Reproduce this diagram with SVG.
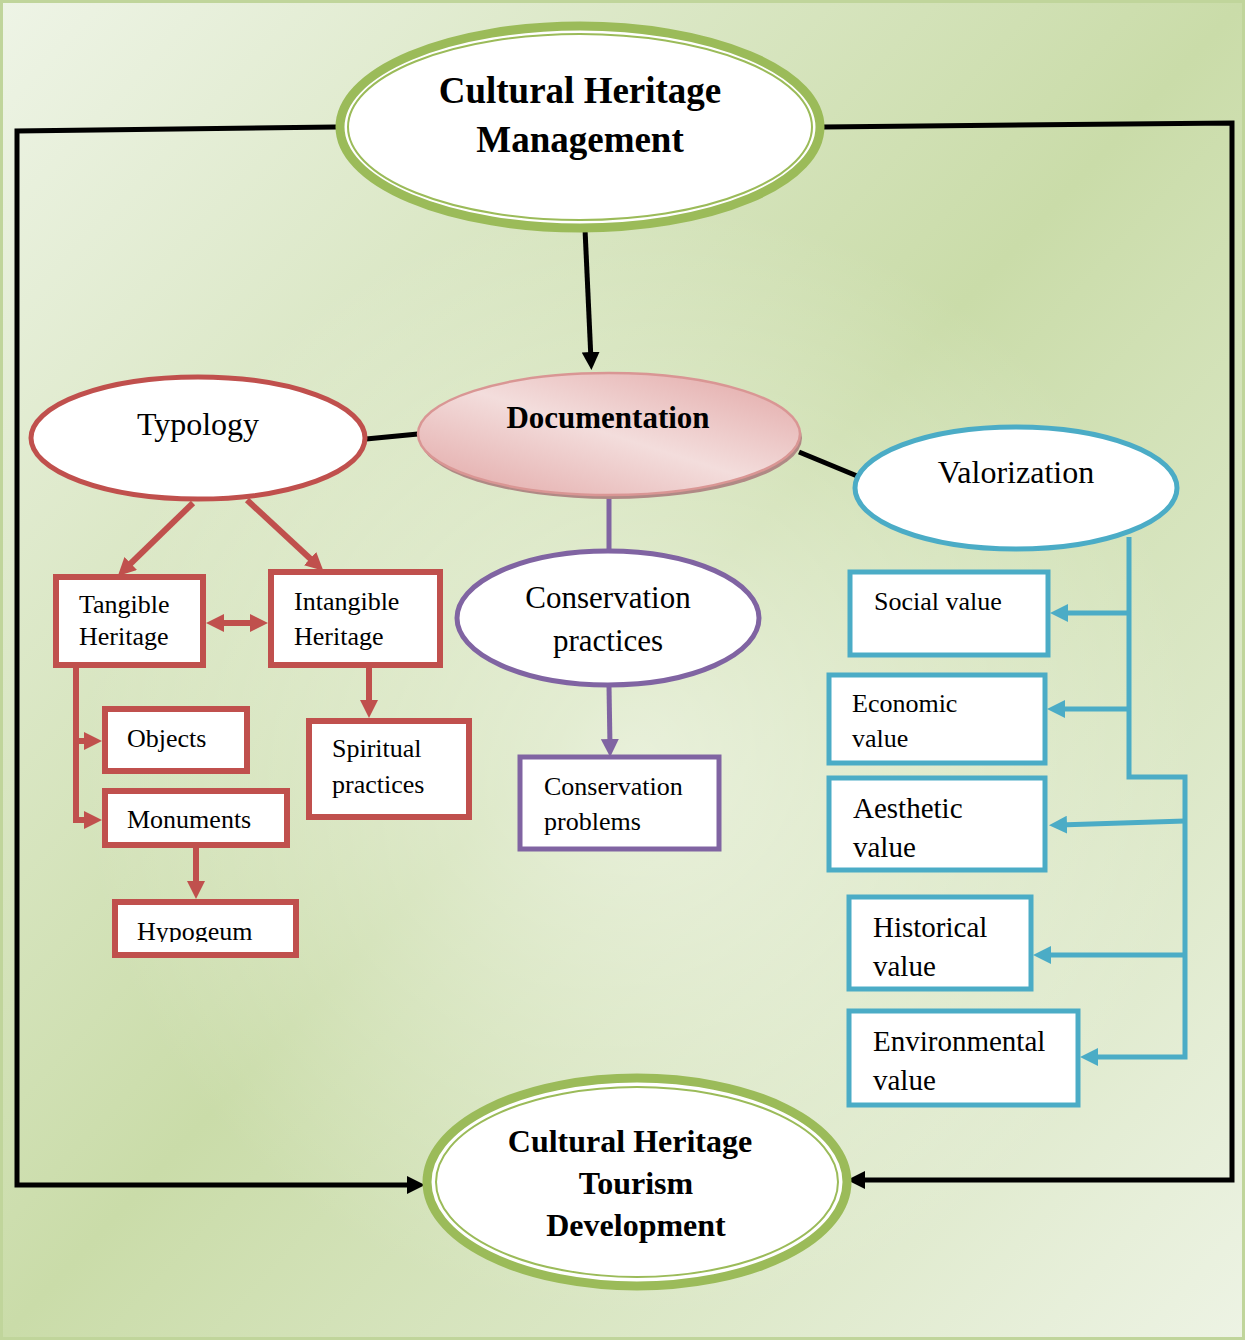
<svg xmlns="http://www.w3.org/2000/svg" width="1245" height="1340" viewBox="0 0 1245 1340">
<defs>
<linearGradient id="bg" x1="0" y1="0" x2="1" y2="1">
<stop offset="0" stop-color="#eef4e6"/>
<stop offset="0.5" stop-color="#cadca9"/>
<stop offset="1" stop-color="#edf3e4"/>
</linearGradient>
<radialGradient id="bgHi" cx="640" cy="760" r="560" gradientUnits="userSpaceOnUse">
<stop offset="0" stop-color="#ffffff" stop-opacity="0.55"/>
<stop offset="1" stop-color="#ffffff" stop-opacity="0"/>
</radialGradient>
<linearGradient id="docFill" x1="0" y1="1" x2="1" y2="0">
<stop offset="0" stop-color="#e2a6a5"/>
<stop offset="0.5" stop-color="#f3dddc"/>
<stop offset="1" stop-color="#e2a6a5"/>
</linearGradient>
<marker id="aBlack" markerUnits="userSpaceOnUse" viewBox="0 0 18 18" markerWidth="18" markerHeight="18" refX="8" refY="9" orient="auto"><path d="M0,0 L18,9 L0,18 z" fill="#000"/></marker>
<marker id="aRed" markerUnits="userSpaceOnUse" viewBox="0 0 18 18" markerWidth="18" markerHeight="18" refX="8" refY="9" orient="auto-start-reverse"><path d="M0,0 L18,9 L0,18 z" fill="#c0504d"/></marker>
<marker id="aBlue" markerUnits="userSpaceOnUse" viewBox="0 0 18 18" markerWidth="18" markerHeight="18" refX="8" refY="9" orient="auto"><path d="M0,0 L18,9 L0,18 z" fill="#4bacc6"/></marker>
<marker id="aPurple" markerUnits="userSpaceOnUse" viewBox="0 0 18 18" markerWidth="18" markerHeight="18" refX="8" refY="9" orient="auto"><path d="M0,0 L18,9 L0,18 z" fill="#8064a2"/></marker>
<clipPath id="hypoClip"><rect x="118" y="905" width="175" height="37"/></clipPath>
</defs>
<style>
text{font-family:"Liberation Serif","Times New Roman",serif;fill:#000}
.b{font-weight:bold}
.m{text-anchor:middle}
.red{fill:#fff;stroke:#c0504d;stroke-width:6}
.blue{fill:#fff;stroke:#4bacc6;stroke-width:5}
.purple{fill:#fff;stroke:#8064a2;stroke-width:5}
.gOut{fill:#fff;stroke:#9bbb59;stroke-width:9}
.gIn{fill:none;stroke:#9bbb59;stroke-width:2}
.cBlack{fill:none;stroke:#000;stroke-width:5}
.cRed{fill:none;stroke:#c0504d;stroke-width:6}
.cBlue{fill:none;stroke:#4bacc6;stroke-width:5}
.cPurple{fill:none;stroke:#8064a2;stroke-width:5}
.t26{font-size:26px}
.t29{font-size:29px}
.t32{font-size:32px}
</style>
<rect x="0" y="0" width="1245" height="1340" fill="url(#bg)"/>
<rect x="0" y="0" width="1245" height="1340" fill="url(#bgHi)"/>
<rect x="1.5" y="1.5" width="1242" height="1337" fill="none" stroke="#c0d59b" stroke-width="3"/>

<g id="connectors">
<path class="cBlack" d="M336,127 L17,131 L17,1185 L415,1185" marker-end="url(#aBlack)"/>
<path class="cBlack" d="M823,127 L1232,123 L1232,1180 L857,1180" marker-end="url(#aBlack)"/>
<path class="cBlack" d="M585,229 L591,360" marker-end="url(#aBlack)"/>
<path class="cBlack" d="M366,439 L418,434"/>
<path class="cBlack" d="M799,452 L862,478"/>
<path class="cRed" d="M193,503 L125,569" marker-end="url(#aRed)"/>
<path class="cRed" d="M247,500 L316,564" marker-end="url(#aRed)"/>
<path class="cRed" d="M216,623 L258,623" marker-start="url(#aRed)" marker-end="url(#aRed)"/>
<path class="cRed" d="M76,668 L76,820 L92,820" marker-end="url(#aRed)"/>
<path class="cRed" d="M76,741 L92,741" marker-end="url(#aRed)"/>
<path class="cRed" d="M369,668 L369,708" marker-end="url(#aRed)"/>
<path class="cRed" d="M196,848 L196,889" marker-end="url(#aRed)"/>
<path class="cPurple" d="M609,498 L609,551"/>
<path class="cPurple" d="M609,686 L610,747" marker-end="url(#aPurple)"/>
<path class="cBlue" d="M1129,537 L1129,777 L1185,777 L1185,1057 L1090,1057" marker-end="url(#aBlue)"/>
<path class="cBlue" d="M1129,613 L1060,613" marker-end="url(#aBlue)"/>
<path class="cBlue" d="M1129,709 L1057,709" marker-end="url(#aBlue)"/>
<path class="cBlue" d="M1185,821 L1059,825" marker-end="url(#aBlue)"/>
<path class="cBlue" d="M1185,955 L1043,955" marker-end="url(#aBlue)"/>
</g>

<g id="management">
<ellipse class="gOut" cx="580" cy="127" rx="240" ry="101"/>
<ellipse class="gIn" cx="580" cy="127" rx="232" ry="93"/>
<text class="b m" style="font-size:37px" x="580" y="103">Cultural Heritage</text>
<text class="b m" style="font-size:37px" x="580" y="152">Management</text>
</g>

<g id="documentation">
<ellipse cx="611" cy="438" rx="191" ry="61" fill="#b08985"/>
<ellipse cx="609" cy="434" rx="191" ry="61" fill="url(#docFill)" stroke="#d99694" stroke-width="2.5"/>
<text class="b m" style="font-size:31px" x="608" y="428">Documentation</text>
</g>

<g id="typology">
<ellipse class="red" style="stroke-width:5" cx="198" cy="438" rx="167" ry="61"/>
<text class="m t32" x="198" y="435">Typology</text>
</g>

<g id="valorization">
<ellipse class="blue" cx="1016" cy="488" rx="161" ry="61"/>
<text class="m t32" x="1016" y="483">Valorization</text>
</g>

<g id="conservation-practices">
<ellipse class="purple" cx="608" cy="618" rx="151" ry="67"/>
<text class="m" style="font-size:31px" x="608" y="608">Conservation</text>
<text class="m" style="font-size:31px" x="608" y="651">practices</text>
</g>

<g id="conservation-problems">
<rect class="purple" x="520" y="757" width="199" height="92"/>
<text class="t26" x="544" y="795">Conservation</text>
<text class="t26" x="544" y="830">problems</text>
</g>

<g id="tangible">
<rect class="red" x="56" y="577" width="147" height="88"/>
<text class="t26" x="79" y="613">Tangible</text>
<text class="t26" x="79" y="645">Heritage</text>
</g>

<g id="intangible">
<rect class="red" x="271" y="572" width="169" height="93"/>
<text class="t26" x="294" y="610">Intangible</text>
<text class="t26" x="294" y="645">Heritage</text>
</g>

<g id="objects">
<rect class="red" x="105" y="709" width="142" height="62"/>
<text class="t26" x="127" y="747">Objects</text>
</g>

<g id="monuments">
<rect class="red" x="105" y="791" width="182" height="54"/>
<text class="t26" x="127" y="828">Monuments</text>
</g>

<g id="hypogeum">
<rect class="red" x="115" y="902" width="181" height="53"/>
<text class="t26" x="137" y="940" clip-path="url(#hypoClip)">Hypogeum</text>
</g>

<g id="spiritual">
<rect class="red" x="309" y="721" width="160" height="96"/>
<text class="t26" x="332" y="757">Spiritual</text>
<text class="t26" x="332" y="793">practices</text>
</g>

<g id="social">
<rect class="blue" x="850" y="572" width="198" height="83"/>
<text class="t26" x="874" y="610">Social value</text>
</g>

<g id="economic">
<rect class="blue" x="829" y="675" width="216" height="88"/>
<text class="t26" x="852" y="712">Economic</text>
<text class="t26" x="852" y="747">value</text>
</g>

<g id="aesthetic">
<rect class="blue" x="829" y="778" width="216" height="92"/>
<text class="t29" x="853" y="818">Aesthetic</text>
<text class="t29" x="853" y="857">value</text>
</g>

<g id="historical">
<rect class="blue" x="849" y="897" width="182" height="92"/>
<text class="t29" x="873" y="937">Historical</text>
<text class="t29" x="873" y="976">value</text>
</g>

<g id="environmental">
<rect class="blue" x="849" y="1011" width="229" height="94"/>
<text class="t29" x="873" y="1051">Environmental</text>
<text class="t29" x="873" y="1090">value</text>
</g>

<g id="tourism">
<ellipse class="gOut" cx="637" cy="1182" rx="210" ry="104"/>
<ellipse class="gIn" cx="637" cy="1182" rx="201" ry="95"/>
<text class="b m" style="font-size:32px" x="630" y="1152">Cultural Heritage</text>
<text class="b m" style="font-size:32px" x="636" y="1194">Tourism</text>
<text class="b m" style="font-size:32px" x="636" y="1236">Development</text>
</g>
</svg>
